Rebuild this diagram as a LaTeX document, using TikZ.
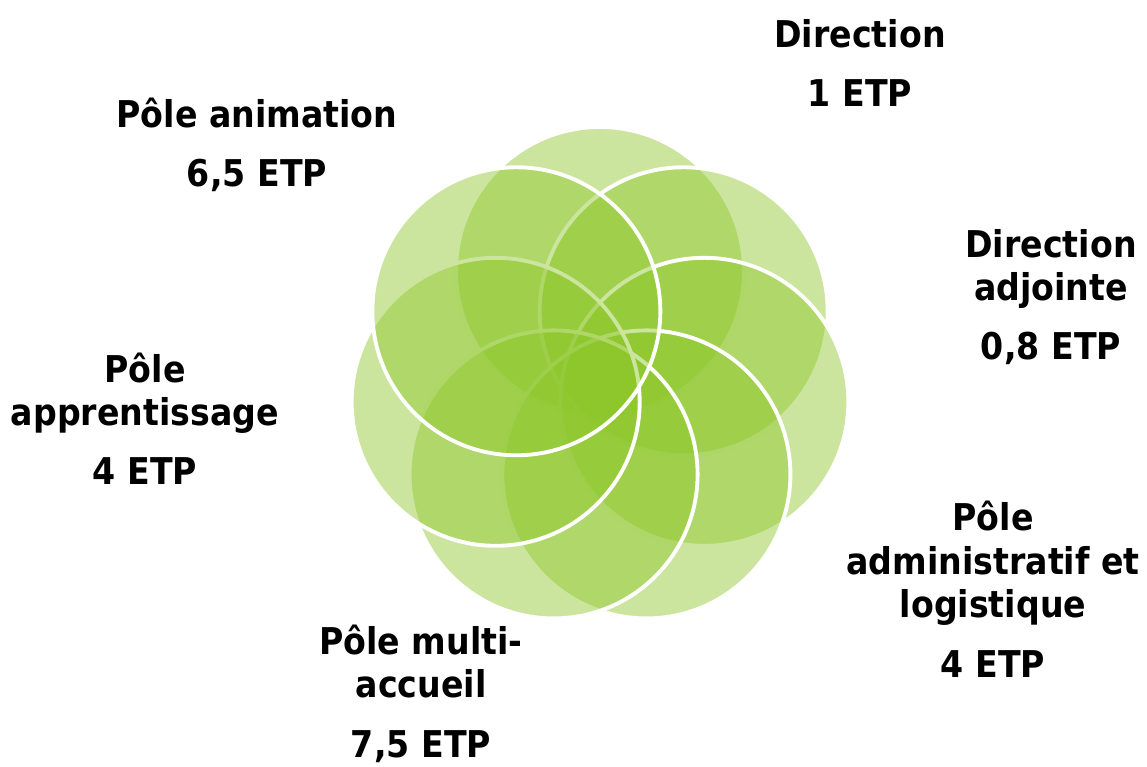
\documentclass[tikz,border=0pt]{standalone}
\usepackage{fontspec}
\usepackage{tikz}
\usetikzlibrary{calc}
\newfontfamily\labelfont{DejaVu Sans}[FakeStretch=0.9]
\definecolor{leaf}{RGB}{140,198,40}
\tikzset{
	petal/.style={fill=leaf, fill opacity=0.45, draw=white, line width=2.2pt},
	lbl/.style={font=\labelfont\bfseries\fontsize{21}{24.5}\selectfont, align=center, inner sep=0pt, anchor=base}
}

\begin{document}
\begin{tikzpicture}
		%%%%% START %%%%%
		
		\useasboundingbox (0, 0) rectangle (22.94, 15.32);
		
		\coordinate (c) at (12.0, 7.76);
		
		\draw[petal] ($(c)+(90:2.14)$) circle (2.88);
		\draw[petal] ($(c)+(38.57:2.14)$) circle (2.88);
		\draw[petal] ($(c)+(-12.86:2.14)$) circle (2.88);
		\draw[petal] ($(c)+(-64.29:2.14)$) circle (2.88);
		\draw[petal] ($(c)+(-115.71:2.14)$) circle (2.88);
		\draw[petal] ($(c)+(-167.14:2.14)$) circle (2.88);
		\draw[petal] ($(c)+(141.43:2.14)$) circle (2.88);
		
		% anchor=base sits on the last line
		\node[lbl] (dir) at (17.20, 13.18) {Direction\\[9.6pt]1 ETP};
		\node[lbl] (anim) at (5.14, 11.58) {Pôle animation\\[9.6pt]6,5 ETP};
		\node[lbl] (diradj) at (21.02, 8.12) {Direction\\adjointe\\[9.6pt]0,8 ETP};
		\node[lbl] (appr) at (2.90, 5.62) {Pôle\\apprentissage\\[9.6pt]4 ETP};
		\node[lbl] (admin) at (19.86, 1.78) {Pôle\\administratif et\\logistique\\[9.6pt]4 ETP};
		\node[lbl] (multi) at (8.42, 0.18) {Pôle multi-\\accueil\\[9.6pt]7,5 ETP};
		
		%%%%% END %%%%%
	\end{tikzpicture}
\end{document}
